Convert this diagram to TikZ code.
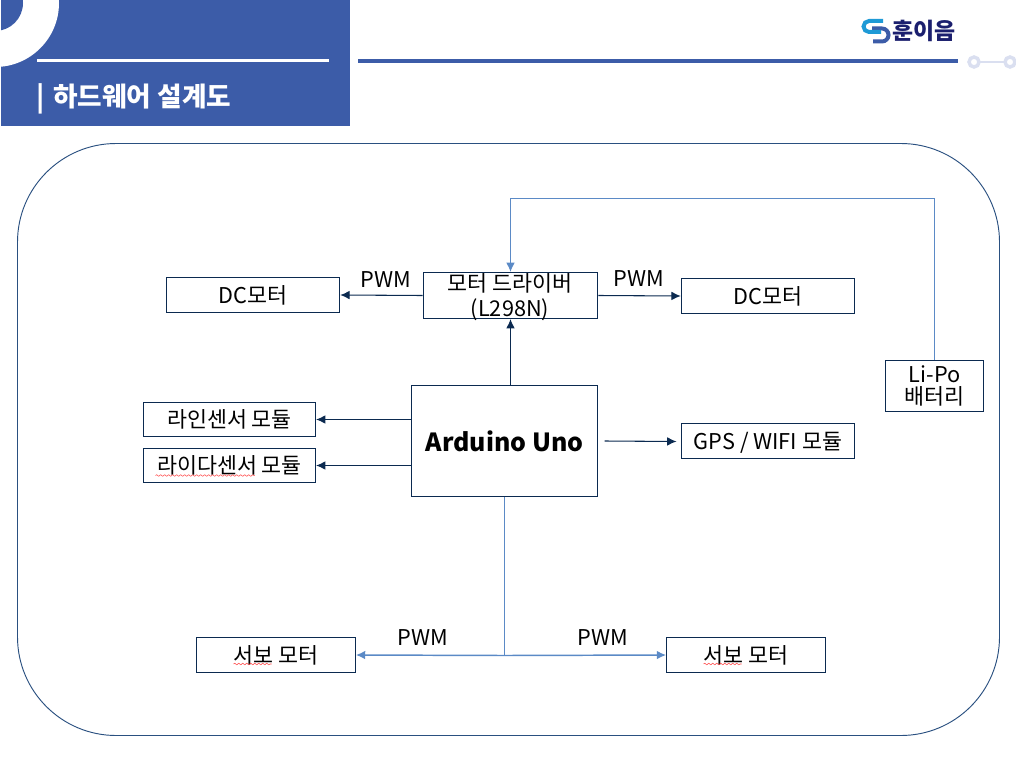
\documentclass[tikz,border=0pt]{standalone}
\usepackage{fontspec}
\setmainfont{Noto Sans CJK KR}
\usetikzlibrary{arrows.meta,decorations.pathmorphing}
\definecolor{hdr}{HTML}{3C5CA8}
\definecolor{navy}{HTML}{0B2A50}
\definecolor{framec}{HTML}{2A5080}
\definecolor{wire}{HTML}{5B8AC6}
\definecolor{pale}{HTML}{DADFF0}
\definecolor{cyanlogo}{HTML}{1E9AD6}
\definecolor{darklogo}{HTML}{1B1F6E}
\newcommand{\fs}[1]{\fontsize{#1}{#1}\selectfont}
\tikzset{
  x=0.75pt,y=-0.75pt,
  mod/.style={draw=navy,line width=0.85pt,fill=white,inner sep=0pt,align=center,text=black,font=\fs{16.3}},
  one/.style={text height=13.5pt,text depth=1.5pt},
  navyline/.style={draw=navy,line width=0.8pt,-{Latex[length=7pt,width=6.5pt]}},
  wireline/.style={draw=wire,line width=0.8pt,-{Latex[length=7pt,width=6.5pt]}},
  servoline/.style={draw=wire,line width=1.1pt,-{Latex[length=7pt,width=6.5pt]}},
  plainwire/.style={draw=wire,line width=1.1pt},
  lbl/.style={inner sep=0pt,text=black,font=\fs{16.3}},
  squig/.style={draw=red!75!white,line width=0.4pt,decorate,decoration={snake,amplitude=0.6pt,segment length=3pt}}
}
\begin{document}
\begin{tikzpicture}
\useasboundingbox (0,0) rectangle (1016,763);
% header
\begin{scope}
\clip (1,0) rectangle (350,126);
\fill[hdr] (1,0) rectangle (350,126);
\fill[white] (-5,3) circle[radius=64];
\fill[hdr] (-5,3) circle[radius=28];
\end{scope}
\draw[white,line width=2.4pt] (37,60.5) -- (329,60.5);
\node[inner sep=0pt,text=white,font=\fs{20}\bfseries,anchor=west] (title) at (36,99) {|\hspace{2pt} 하드웨어 설계도};
\draw[hdr,line width=2.4pt] (358,61) -- (958,61);
\draw[pale,line width=1.4pt] (974,62) -- (1010,62);
\draw[pale,line width=2.6pt,fill=white] (974,62) circle[radius=5];
\draw[pale,line width=2.6pt,fill=white] (1010,62) circle[radius=5];
% logo
\draw[hdr,line width=3pt] (872,28.5) -- (882,28.5) arc[start angle=-90,end angle=90,radius=6.5] -- (873,41.5);
\draw[cyanlogo,line width=3pt] (883,21) -- (869,21) arc[start angle=-90,end angle=-270,radius=5.5] -- (881,32);
\node[inner sep=0pt,text=darklogo,font=\fs{17.2}\bfseries,anchor=west] (logo) at (892.5,31) {훈이음};
\begin{scope}[shift={(0.5,0.5)}]
% frame
\draw[framec,line width=0.7pt,rounded corners=74pt] (17,143) rectangle (999,735);
% modules
\node[mod,one,minimum width=130pt,minimum height=26pt] (dcL) at (252.5,294.5) {DC모터};
\node[mod,minimum width=131pt,minimum height=34.5pt] (drv) at (510,295) {};
\node[inner sep=0pt,align=center,font=\fs{16.3}] (drvt) at (509.5,296.5) {모터 드라이버\\[2.5pt](L298N)};
\node[mod,one,minimum width=130pt,minimum height=26pt] (dcR) at (767.5,295.5) {DC모터};
\node[mod,minimum width=139.5pt,minimum height=83pt] (ard) at (504,440.5) {};
\node[inner sep=0pt,font=\fs{18.7}\bfseries] (ardt) at (504,440.5) {Arduino Uno};
\node[mod,one,minimum width=129pt,minimum height=25.5pt] (line) at (229,419) {라인센서 모듈};
\node[mod,one,minimum width=129pt,minimum height=25.5pt] (lidar) at (229,465) {라이다센서 모듈};
\node[mod,one,minimum width=130pt,minimum height=26pt] (gps) at (767.5,440.5) {GPS / WIFI 모듈};
\node[mod,minimum width=73.5pt,minimum height=38.5pt] (lipo) at (934,385.5) {Li-Po\\[0.5pt]배터리};
\node[mod,one,minimum width=119pt,minimum height=26pt] (svL) at (275.5,654.5) {서보 모터};
\node[mod,one,minimum width=119pt,minimum height=26pt] (svR) at (745.5,654.5) {서보 모터};
% squiggles
\draw[squig] (155,475) -- (254,475);
\draw[squig] (233,663.5) -- (271,663.5);
\draw[squig] (703,663.5) -- (741,663.5);
% connectors
\draw[navyline] (drv.west) -- (dcL.east);
\draw[navyline] (drv.east) -- (dcR.west);
\draw[navyline] (ard.north -| drv.center) -- (drv.south);
\draw[navyline] (ard.west |- line.east) -- (line.east);
\draw[navyline] (ard.west |- lidar.east) -- (lidar.east);
\coordinate (gpsA) at (604,440.5);
\coordinate (gpsB) at (676,441);
\draw[navyline] (gpsA) -- (gpsB);
\coordinate (busTop) at (510,198);
\draw[wireline] (lipo.north) |- (busTop) -- (drv.north);
\coordinate (jn) at (504,655);
\draw[plainwire] (ard.south) -- (jn);
\draw[servoline] (jn) -- (svL.east);
\draw[servoline] (jn) -- (svR.west);
% labels
\node[lbl] (p1) at (385,279) {PWM};
\node[lbl] (p2) at (638,278) {PWM};
\node[lbl] (p3) at (422,637) {PWM};
\node[lbl] (p4) at (602,637) {PWM};
\end{scope}
\end{tikzpicture}
\end{document}
